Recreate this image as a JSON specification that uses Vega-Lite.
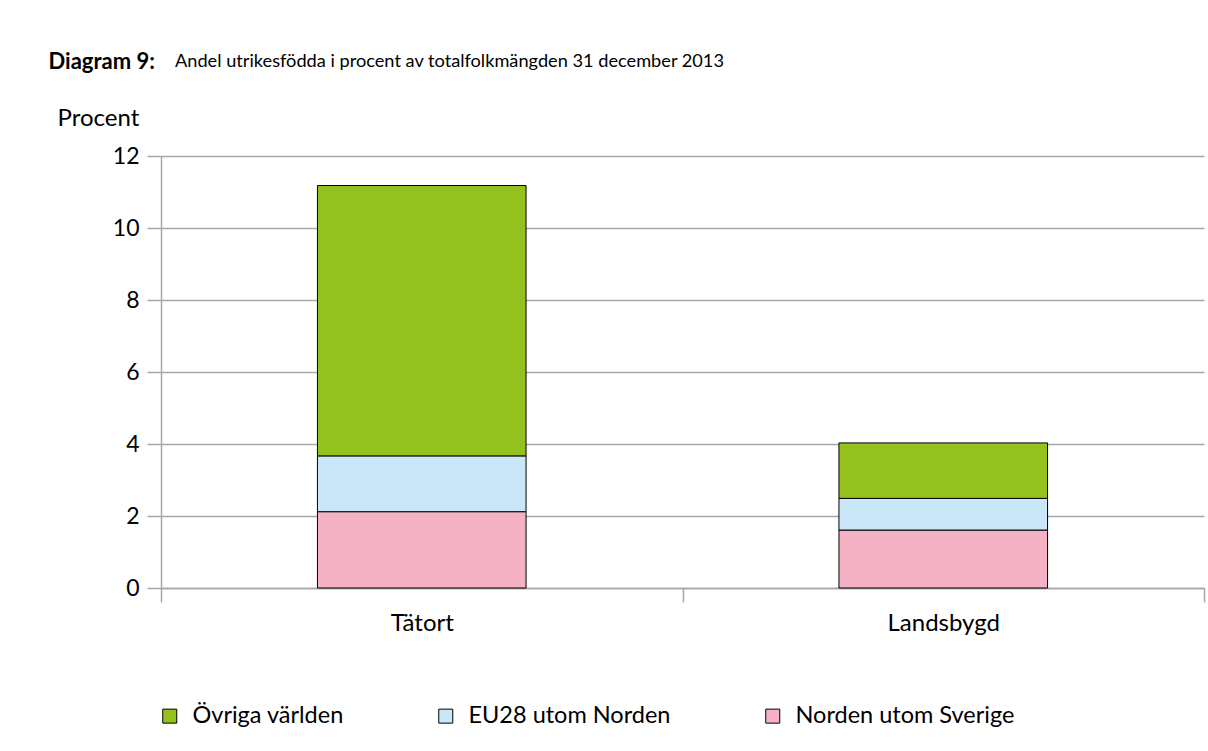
{
  "$schema": "https://vega.github.io/schema/vega-lite/v6.json",
  "width": 1043,
  "height": 432,
  "autosize": "none",
  "padding": {"left": 161, "top": 156, "right": 4, "bottom": 163},
  "background": "white",
  "title": {
    "text": "Andel utrikesfödda i procent av totalfolkmängden 31 december 2013",
    "anchor": "start",
    "frame": "group",
    "dx": 14,
    "dy": 41,
    "fontSize": 18.2,
    "fontWeight": "normal",
    "font": "Lato",
    "color": "black",
    "offset": 20
  },
  "data": {
    "values": [
      {"omrade": "Tätort", "kategori": "Norden utom Sverige", "ordning": 1, "procent": 2.12},
      {"omrade": "Tätort", "kategori": "EU28 utom Norden", "ordning": 2, "procent": 1.55},
      {"omrade": "Tätort", "kategori": "Övriga världen", "ordning": 3, "procent": 7.51},
      {"omrade": "Landsbygd", "kategori": "Norden utom Sverige", "ordning": 1, "procent": 1.61},
      {"omrade": "Landsbygd", "kategori": "EU28 utom Norden", "ordning": 2, "procent": 0.88},
      {"omrade": "Landsbygd", "kategori": "Övriga världen", "ordning": 3, "procent": 1.54}
    ]
  },
  "mark": {"type": "bar", "stroke": "black", "strokeWidth": 1, "width": {"band": 0.4}},
  "encoding": {
    "x": {
      "field": "omrade",
      "type": "nominal",
      "sort": ["Tätort", "Landsbygd"],
      "scale": {"paddingInner": 0, "paddingOuter": 0},
      "axis": {
        "title": "Diagram 9:",
        "titleFontWeight": "bold",
        "titleFontSize": 22,
        "titleAlign": "left",
        "titleBaseline": "alphabetic",
        "titleAnchor": null,
        "titleX": -113,
        "titleY": -520,
        "titleAngle": 0,
        "labelAngle": 0,
        "tickBand": "extent",
        "tickSize": 14,
        "labelPadding": 9,
        "labelFontSize": 24,
        "grid": false
      }
    },
    "y": {
      "field": "procent",
      "type": "quantitative",
      "stack": "zero",
      "scale": {"domain": [0, 12], "nice": false},
      "axis": {
        "values": [0, 2, 4, 6, 8, 10, 12],
        "title": "Procent",
        "titleAngle": 0,
        "titleAlign": "left",
        "titleBaseline": "middle",
        "titleX": -104,
        "titleY": -38,
        "titleFontSize": 24,
        "titleFontWeight": "normal",
        "tickSize": 14,
        "labelPadding": 8,
        "labelFontSize": 23,
        "grid": true
      }
    },
    "color": {
      "field": "kategori",
      "type": "nominal",
      "scale": {
        "domain": ["Övriga världen", "EU28 utom Norden", "Norden utom Sverige"],
        "range": ["#95c11f", "#c9e7f8", "#f5b2c4"]
      },
      "legend": {
        "title": null,
        "orient": "none",
        "legendX": -3,
        "legendY": 548,
        "direction": "horizontal",
        "columns": 3,
        "columnPadding": 90,
        "labelFontSize": 23.5,
        "labelLimit": 0,
        "labelOffset": 11,
        "symbolType": "square",
        "symbolSize": 196,
        "symbolStrokeColor": "black",
        "symbolStrokeWidth": 1
      }
    },
    "order": {"field": "ordning", "type": "quantitative"}
  },
  "config": {
    "font": "Lato",
    "view": {"stroke": null},
    "axis": {
      "labelColor": "black",
      "titleColor": "black",
      "labelFont": "Lato",
      "titleFont": "Lato",
      "domainColor": "#a6a6a6",
      "domainWidth": 1.5,
      "tickColor": "#a6a6a6",
      "tickWidth": 1.5,
      "gridColor": "#a6a6a6",
      "gridWidth": 1.5
    },
    "legend": {"labelColor": "black", "labelFont": "Lato"}
  }
}
